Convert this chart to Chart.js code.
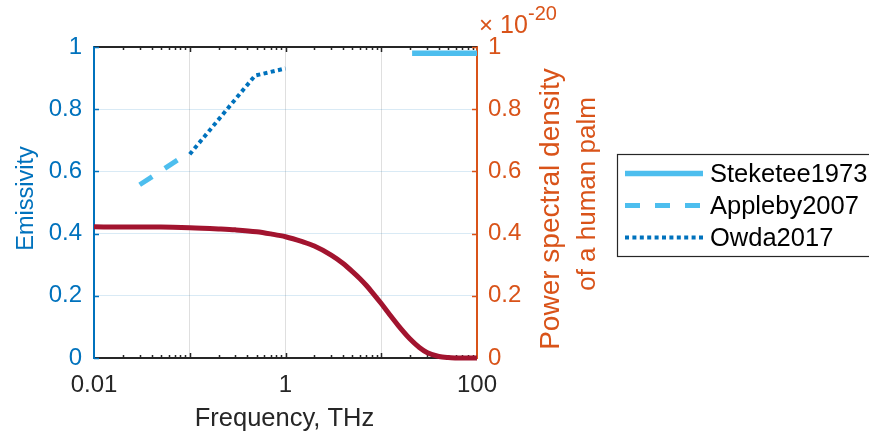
<!DOCTYPE html>
<html><head><meta charset="utf-8">
<script src="https://cdn.jsdelivr.net/npm/chart.js@4.4.0/dist/chart.umd.min.js"></script>
<style>html,body{margin:0;padding:0;background:#fff;}</style>
</head><body>
<canvas id="c" width="869" height="435"></canvas>
<script>
// ---- data ----
const psdFreq = [0.01, 0.02, 0.05, 0.1, 0.2, 0.3, 0.5, 0.7, 1, 1.5, 2, 3, 4, 5, 6, 7, 8, 10, 12, 15, 20, 25, 30, 40, 50, 60, 80, 100];
const psdVal  = [0.422, 0.421, 0.421, 0.419, 0.415, 0.412, 0.406, 0.399, 0.390, 0.374, 0.360, 0.331, 0.304, 0.278, 0.255, 0.233, 0.212, 0.175, 0.143, 0.105, 0.061, 0.034, 0.018, 0.005, 0.0013, 0.0003, 0.0, 0.0];
const steketeeFreq = [21, 100];
const steketeeVal  = [0.98, 0.98];
const applebyFreq = [0.03, 0.1];
const applebyVal  = [0.557, 0.662];
const owdaFreq = [0.1, 0.48, 1];
const owdaVal  = [0.655, 0.908, 0.931];
const xTickValues = [0.01, 0.1, 1, 10, 100];
const xTickLabels = ['0.01', '', '1', '', '100'];
const yTickValues = [0, 0.2, 0.4, 0.6, 0.8, 1];
const yTickLabels = ['0', '0.2', '0.4', '0.6', '0.8', '1'];
const seriesNames = ['Steketee1973', 'Appleby2007', 'Owda2017'];

const FONT = '"Liberation Sans", Arial, Helvetica, sans-serif';
const BLUE = '#0072BD', LBLUE = '#4DBEEE', ORANGE = '#D95319', RED = '#A2142F', DARK = '#262626';
const pts = (xs, ys) => xs.map((x, i) => ({x: x, y: ys[i]}));

const decorations = {
  id: 'decorations',
  beforeDatasetsDraw(chart) {
    const ctx = chart.ctx, a = chart.chartArea;
    const xs = chart.scales.x, ys = chart.scales.y;
    ctx.save();
    ctx.strokeStyle = DARK; ctx.lineWidth = 2;
    ctx.beginPath(); ctx.moveTo(a.left, a.top); ctx.lineTo(a.right, a.top); ctx.stroke();
    ctx.lineWidth = 1.5;
    for (let e = -2; e < 2; e++) {
      for (let m = 1; m <= 9; m++) {
        if (m === 1 && e === -2) continue;
        const v = m * Math.pow(10, e);
        const px = Math.round(xs.getPixelForValue(v)) + 0.5;
        const len = m === 1 ? 5 : 3;
        ctx.beginPath();
        ctx.moveTo(px, a.bottom); ctx.lineTo(px, a.bottom - len);
        ctx.moveTo(px, a.top); ctx.lineTo(px, a.top + len);
        ctx.stroke();
      }
    }
    yTickValues.forEach(v => {
      const py = Math.round(ys.getPixelForValue(v)) + 0.5;
      ctx.strokeStyle = BLUE;
      ctx.beginPath(); ctx.moveTo(a.left, py); ctx.lineTo(a.left + 5, py); ctx.stroke();
      ctx.strokeStyle = ORANGE;
      ctx.beginPath(); ctx.moveTo(a.right, py); ctx.lineTo(a.right - 5, py); ctx.stroke();
    });
    ctx.restore();
  },
  afterDraw(chart) {
    const ctx = chart.ctx, a = chart.chartArea;
    ctx.save();
    ctx.textBaseline = 'alphabetic'; ctx.textAlign = 'center';
    // x title
    ctx.fillStyle = DARK; ctx.font = '25.5px ' + FONT;
    ctx.fillText('Frequency, THz', (a.left + a.right) / 2 - 1, 426);
    // left title
    ctx.save();
    ctx.translate(0, 198.5); ctx.rotate(-Math.PI / 2);
    ctx.fillStyle = BLUE; ctx.font = '23.5px ' + FONT;
    ctx.fillText('Emissivity', 0, 33);
    ctx.restore();
    // right title (two lines)
    ctx.fillStyle = ORANGE;
    ctx.save();
    ctx.translate(0, 209); ctx.rotate(-Math.PI / 2);
    ctx.font = '28px ' + FONT;
    ctx.fillText('Power spectral density', 0, 559);
    ctx.restore();
    ctx.save();
    ctx.translate(0, 194); ctx.rotate(-Math.PI / 2);
    ctx.font = '26px ' + FONT;
    ctx.fillText('of a human palm', 0, 595);
    ctx.restore();
    // exponent
    ctx.textAlign = 'left';
    ctx.font = '24px ' + FONT;
    ctx.fillText('\u00d7', 479, 33);
    ctx.font = '25px ' + FONT;
    ctx.fillText('10', 500, 33);
    ctx.font = '20px ' + FONT;
    ctx.fillText('-20', 528, 20);
    // legend
    ctx.fillStyle = '#fff'; ctx.strokeStyle = DARK; ctx.lineWidth = 1.2;
    ctx.fillRect(617, 154, 270, 103);
    ctx.strokeRect(617.5, 154.5, 270, 102);
    const rows = [173.5, 205.5, 237.5];
    chart.data.datasets.forEach(ds => {
      const idx = seriesNames.indexOf(ds.label);
      if (idx < 0) return;
      const y = rows[idx];
      ctx.strokeStyle = ds.borderColor; ctx.lineWidth = ds.borderWidth;
      ctx.setLineDash(ds.borderDash || []);
      ctx.beginPath(); ctx.moveTo(625, y); ctx.lineTo(703, y); ctx.stroke();
      ctx.setLineDash([]);
      ctx.fillStyle = '#000'; ctx.font = '25.5px ' + FONT; ctx.textBaseline = 'middle';
      ctx.fillText(ds.label, 710, y + 1);
    });
    ctx.restore();
  }
};

new Chart(document.getElementById('c'), {
  type: 'line',
  data: {
    datasets: [
      {label: 'PSD', data: pts(psdFreq, psdVal), yAxisID: 'y2', borderColor: RED, borderWidth: 5,
       cubicInterpolationMode: 'monotone', pointRadius: 0, fill: false, clip: false},
      {label: seriesNames[0], data: pts(steketeeFreq, steketeeVal), yAxisID: 'y', borderColor: LBLUE, borderWidth: 5.5,
       pointRadius: 0, fill: false, clip: false},
      {label: seriesNames[1], data: pts(applebyFreq, applebyVal), yAxisID: 'y', borderColor: LBLUE, borderWidth: 5,
       borderDash: [15, 15], pointRadius: 0, fill: false, clip: false},
      {label: seriesNames[2], data: pts(owdaFreq, owdaVal), yAxisID: 'y', borderColor: BLUE, borderWidth: 4,
       borderDash: [4, 3.4], pointRadius: 0, fill: false, clip: false}
    ]
  },
  options: {
    responsive: false, animation: false, devicePixelRatio: 1,
    layout: {padding: {left: 0, top: 47, right: 262, bottom: 0}},
    plugins: {legend: {display: false}, tooltip: {enabled: false}},
    scales: {
      x: {
        type: 'logarithmic', position: 'bottom', min: 0.01, max: 100,
        afterBuildTicks: s => { s.ticks = xTickValues.map(v => ({value: v})); },
        ticks: {autoSkip: false, maxRotation: 0, padding: 12.7, color: DARK, font: {family: FONT, size: 24},
                callback: (v, i) => xTickLabels[i]},
        grid: {drawTicks: false, lineWidth: 1,
               color: c => (c.tick && c.tick.value > 0.011 && c.tick.value < 99) ? 'rgba(38,38,38,0.15)' : 'rgba(0,0,0,0)'},
        border: {color: DARK, width: 2},
        afterFit: s => { s.height = 77; }
      },
      y: {
        type: 'linear', position: 'left', min: 0, max: 1,
        afterBuildTicks: s => { s.ticks = yTickValues.map(v => ({value: v})); },
        ticks: {padding: 12, color: BLUE, font: {family: FONT, size: 24}, callback: (v, i) => yTickLabels[i]},
        grid: {drawTicks: false, lineWidth: 1,
               color: c => (c.tick && c.tick.value > 0.01 && c.tick.value < 0.99) ? 'rgba(0,114,189,0.15)' : 'rgba(0,0,0,0)'},
        border: {color: BLUE, width: 2},
        afterFit: s => { s.width = 94; }
      },
      y2: {
        type: 'linear', position: 'right', min: 0, max: 1,
        afterBuildTicks: s => { s.ticks = yTickValues.map(v => ({value: v})); },
        ticks: {padding: 11, color: ORANGE, font: {family: FONT, size: 24}, callback: (v, i) => yTickLabels[i]},
        grid: {drawOnChartArea: false, drawTicks: false},
        border: {color: ORANGE, width: 2},
        afterFit: s => { s.width = 130; }
      }
    }
  },
  plugins: [decorations]
});
</script>
</body></html>
